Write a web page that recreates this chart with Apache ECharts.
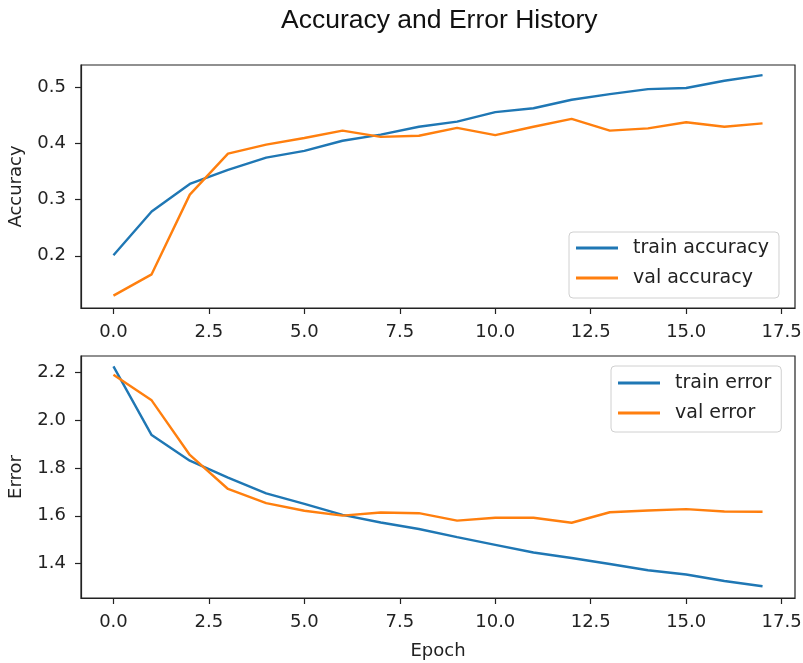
<!DOCTYPE html>
<html>
<head>
<meta charset="utf-8">
<title>Accuracy and Error History</title>
<script src="https://cdn.jsdelivr.net/npm/echarts@6/dist/echarts.min.js"></script>
<style>
	html,body{margin:0;padding:0;background:#fff;}
	#chart{width:803px;height:663px;}
</style>
</head>
<body>
<div id="chart"></div>
<script>
	//数据
	var epochs = [0,1,2,3,4,5,6,7,8,9,10,11,12,13,14,15,16,17];
	var trainAcc = [0.201,0.279,0.328,0.353,0.375,0.387,0.405,0.416,0.430,0.439,0.456,0.463,0.478,0.488,0.497,0.499,0.512,0.522];
	var valAcc = [0.129,0.167,0.309,0.382,0.398,0.410,0.423,0.412,0.414,0.428,0.415,0.430,0.444,0.423,0.427,0.438,0.430,0.436];
	var trainErr = [2.224,1.937,1.830,1.759,1.694,1.650,1.604,1.572,1.545,1.511,1.479,1.447,1.424,1.399,1.373,1.355,1.328,1.306];
	var valErr = [2.189,2.082,1.854,1.712,1.653,1.621,1.601,1.614,1.611,1.580,1.592,1.592,1.571,1.615,1.622,1.628,1.618,1.617];
	var xTicks = [0,2.5,5,7.5,10,12.5,15,17.5];
	var accTicks = [0.2,0.3,0.4,0.5];
	var errTicks = [1.4,1.6,1.8,2.0,2.2];

	var blue = '#1f77b4', orange = '#ff7f0e';
	var ink = '#222';

	function pairs(ys){
		var serie = [];
		for (var i = 0; i < epochs.length; i++) {
			serie.push([epochs[i], ys[i]]);
		}
		return serie;
	}

	function xAxis(idx, name){
		return {
			type:'value', gridIndex:idx, min:-0.85, max:17.85,
			name:name, nameLocation:'middle', nameGap:44,
			nameTextStyle:{color:ink, fontSize:18, fontFamily:'DejaVu Sans'},
			axisLine:{show:true, onZero:false, lineStyle:{color:ink, width:1.2}},
			axisTick:{show:true, length:6, lineStyle:{color:ink, width:1.2}, customValues:xTicks},
			axisLabel:{color:ink, fontSize:18, fontFamily:'DejaVu Sans', margin:15, customValues:xTicks,
				formatter:function(v){return v.toFixed(1);}},
			splitLine:{show:false}
		};
	}
	function yAxis(idx, name, min, max, ticks){
		return {
			type:'value', gridIndex:idx, min:min, max:max,
			name:name, nameLocation:'middle', nameGap:56,
			nameTextStyle:{color:ink, fontSize:18, fontFamily:'DejaVu Sans'},
			axisLine:{show:true, onZero:false, lineStyle:{color:ink, width:1.2}},
			axisTick:{show:true, length:6, lineStyle:{color:ink, width:1.2}, customValues:ticks},
			axisLabel:{color:ink, fontSize:18, fontFamily:'DejaVu Sans', margin:15, customValues:ticks,
				formatter:function(v){return v.toFixed(1);}},
			splitLine:{show:false}
		};
	}
	function legend(names, left, top, padding){
		return {
			data:names, orient:'vertical', left:left, top:top,
			selectedMode:false, icon:'rect', itemWidth:42, itemHeight:3, itemGap:10,
			padding:padding, borderColor:'#d0d0d0', borderWidth:1, borderRadius:4,
			backgroundColor:'rgba(255,255,255,0.8)',
			textStyle:{color:ink, fontSize:19, fontFamily:'DejaVu Sans', lineHeight:20, padding:[0,0,0,10]}
		};
	}
	function line(name, x, ys, color){
		return {
			name:name, type:'line', xAxisIndex:x, yAxisIndex:x,
			data:pairs(ys), symbol:'none', smooth:false,
			lineStyle:{color:color, width:2.4}, itemStyle:{color:color},
			silent:true
		};
	}

	var myChart = echarts.init(document.getElementById('chart'), null, {renderer:'canvas'});
	var option = {
		animation:false,
		title:{
			text:'Accuracy and Error History', left:276, top:2,
			textStyle:{color:'#111', fontSize:26.5, fontWeight:'normal', fontFamily:'Liberation Sans'}
		},
		legend:[
			legend(['train accuracy','val accuracy'], 569, 232, [6,10,10,7]),
			legend(['train error','val error'], 611, 366, [7,10,9,7])
		],
		grid:[
			{left:81, right:8, top:65, height:243, outerBoundsMode:'none', containLabel:false,
				show:true, borderColor:ink, borderWidth:1.2, backgroundColor:'#fff'},
			{left:81, right:8, top:356, height:242, outerBoundsMode:'none', containLabel:false,
				show:true, borderColor:ink, borderWidth:1.2, backgroundColor:'#fff'}
		],
		xAxis:[xAxis(0,''), xAxis(1,'Epoch')],
		yAxis:[
			yAxis(0,'Accuracy',0.107,0.540,accTicks),
			yAxis(1,'Error',1.257,2.267,errTicks)
		],
		series:[
			line('train accuracy',0,trainAcc,blue),
			line('val accuracy',0,valAcc,orange),
			line('train error',1,trainErr,blue),
			line('val error',1,valErr,orange)
		]
	};
	myChart.setOption(option);
</script>
</body>
</html>
